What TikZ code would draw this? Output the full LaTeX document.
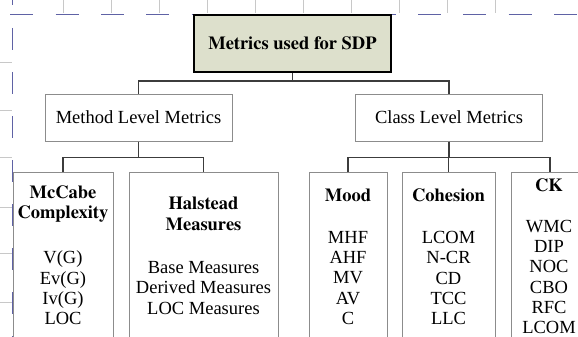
\documentclass[tikz,border=0pt]{standalone}
\usepackage{fontspec}
\setmainfont{Liberation Serif}
\newfontface\titlefont{texgyretermes-bold.otf}
\usepackage{xcolor}
\usetikzlibrary{positioning}

\definecolor{rootfill}{RGB}{221,224,204}
\definecolor{boxline}{RGB}{140,140,140}
\definecolor{linkline}{RGB}{60,60,60}
\definecolor{pagedash}{RGB}{95,98,165}
\definecolor{rulerline}{RGB}{200,200,200}

\begin{document}
\begin{tikzpicture}[
    x=1pt, y=-1pt,
    font=\fontsize{18.5}{20.3}\selectfont,
    rootbox/.style={rectangle, draw=black, fill=rootfill, line width=2pt, minimum width=197pt, minimum height=57pt, inner sep=0pt, font=\titlefont\fontsize{18.5}{20.3}\selectfont},
    levelbox/.style={rectangle, draw=boxline, line width=1pt, minimum width=187pt, minimum height=47pt, inner sep=0pt},
    groupbox/.style={rectangle, draw=boxline, line width=1pt, anchor=north, minimum height=175pt, inner sep=0pt},
    grouptitle/.style={align=center, inner sep=0pt, font=\titlefont\fontsize{18.5}{20.3}\selectfont},
    grouplist/.style={align=center, inner sep=0pt},
    link/.style={draw=linkline, line width=1.5pt},
    pageedge/.style={draw=pagedash, line width=1.2pt, dash pattern=on 23pt off 22.3pt},
    ruler/.style={draw=rulerline, line width=0.8pt}
]

% Picture size and cut
\useasboundingbox (0,0) rectangle (578,337);
\clip (0,0) rectangle (578,337);

% Page edge and ruler marks behind the chart
\foreach \x in {63,111,...,542} \draw[ruler] (\x,0) -- (\x,13);
\foreach \y in {62,110,157,207,253,302} \draw[ruler] (0,\y) -- (12,\y);
\draw[pageedge] (10.4,14.7) -- (578,14.7);
\draw[pageedge, dash pattern=on 22pt off 22pt] (12.5,28) -- (12.5,337);
\draw[pageedge] (12.5,0) -- (12.5,5);

% Root
\node[rootbox] (root) at (292.5,43.5) {Metrics used for SDP};

% Two levels
\node[levelbox] (method) at (138.5,117.5) {Method Level Metrics};
\node[levelbox] (class) at (449,117.5) {Class Level Metrics};

% Method level groups
\node[groupbox, minimum width=100pt] (mccabe) at (63,172) {};
\node[groupbox, minimum width=149pt] (halstead) at (203.5,172) {};

% Class level groups
\node[groupbox, minimum width=78pt] (mood) at (348,172) {};
\node[groupbox, minimum width=93pt] (cohesion) at (448.5,172) {};
\node[groupbox, minimum width=78pt] (ck) at (550,172) {};

% Group texts
\node[grouptitle] (mccabeTitle) at (63,204) {McCabe\\Complexity};
\node[grouplist] (mccabeList) at (63,288) {V(G)\\Ev(G)\\Iv(G)\\LOC};

\node[grouptitle] (halsteadTitle) at (203.5,214) {Halstead\\Measures};
\node[grouplist] (halsteadList) at (203.5,288) {Base Measures\\Derived Measures\\LOC Measures};

\node[grouptitle] (moodTitle) at (348,195) {Mood};
\node[grouplist] (moodList) at (348,278) {MHF\\AHF\\MV\\AV\\C};

\node[grouptitle] (cohesionTitle) at (448.5,195) {Cohesion};
\node[grouplist] (cohesionList) at (448.5,278) {LCOM\\N-CR\\CD\\TCC\\LLC};

\node[grouptitle] (ckTitle) at (549,185) {CK};
\node[grouplist] (ckList) at (549,277) {WMC\\DIP\\NOC\\CBO\\RFC\\LCOM};

% Tree connectors
\draw[link] (root.south) -- ++(0,8) -| (method.north);
\draw[link] (root.south) -- ++(0,8) -| (class.north);

\draw[link] (method.south) -- ++(0,16) -| (mccabe.north);
\draw[link] (method.south) -- ++(0,16) -| (halstead.north);

\draw[link] (class.south) -- ++(0,16) -| (mood.north);
\draw[link] (class.south) -- ++(0,16) -| (cohesion.north);
\draw[link] (class.south) -- ++(0,16) -| (ck.north);

\end{tikzpicture}
\end{document}
